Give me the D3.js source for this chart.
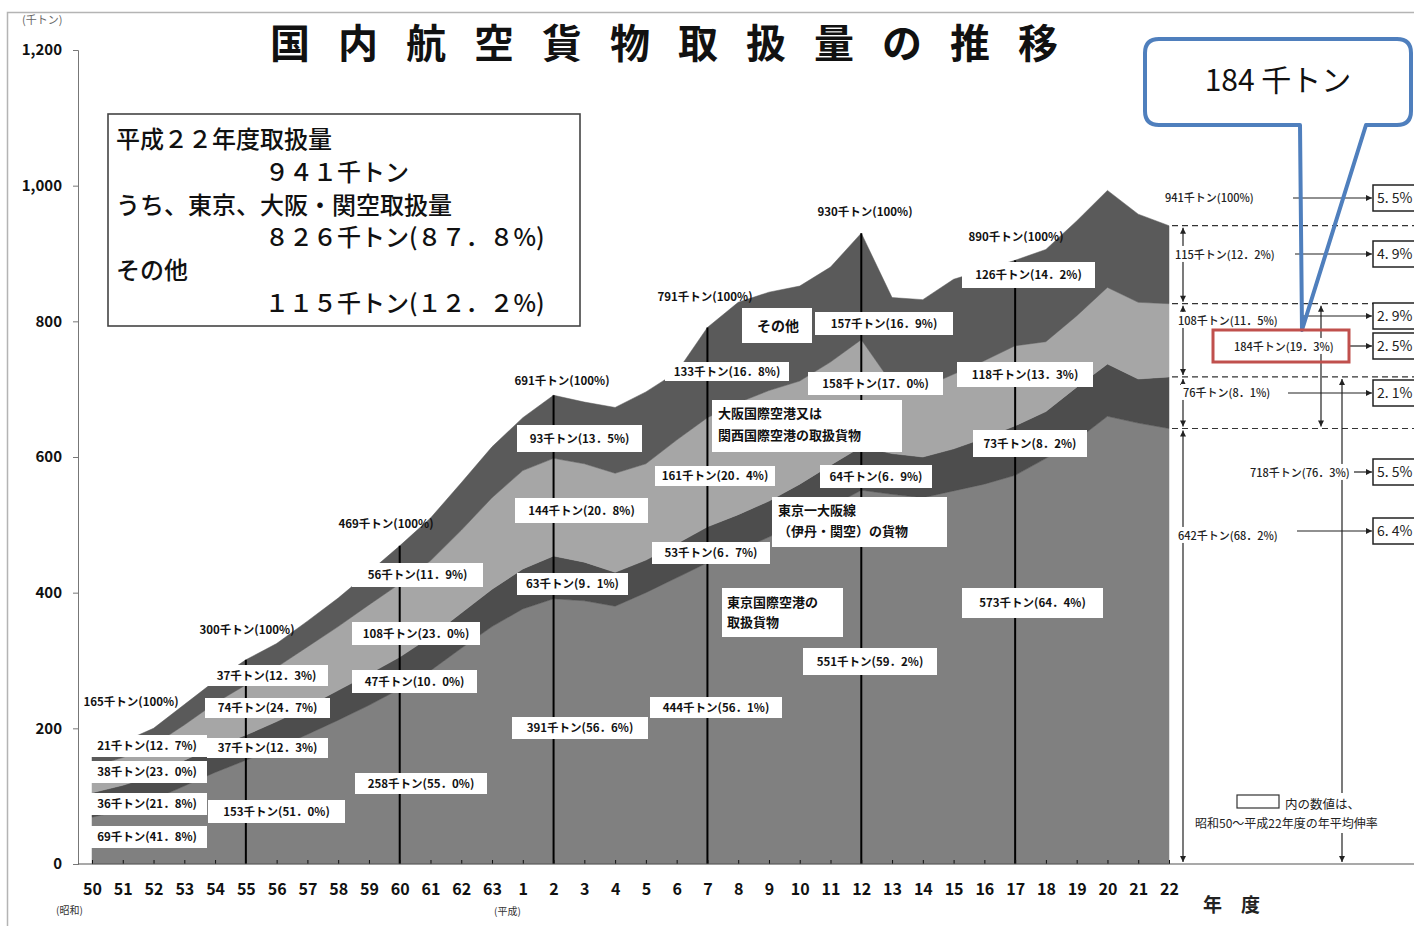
<!DOCTYPE html>
<html><head><meta charset="utf-8">
<script src="https://cdn.jsdelivr.net/npm/d3@7"></script>
<style>
body{margin:0;background:#fff;}
svg{display:block;}
text{font-family:"Noto Sans CJK JP","Noto Sans",sans-serif;}
</style></head><body>
<svg id="c" width="1414" height="926"></svg>
<script>
// ---------------- data ----------------
const years = ["50","51","52","53","54","55","56","57","58","59","60","61","62","63",
  "1","2","3","4","5","6","7","8","9","10","11","12","13","14","15","16","17","18","19","20","21","22"];
// 東京国際空港の取扱貨物 (千トン)
const tokyo = [69,79,95,115,135,153,171,191,212,234,258,285,318,350,376,391,388,380,400,422,444,462,482,503,527,551,545,540,550,560,573,598,625,660,650,642];
// 東京－大阪線（伊丹・関空）の貨物
const tokyoOsaka = [36,37,35,38,38,37,39,41,44,46,47,50,52,55,59,63,57,50,48,50,53,53,53,57,61,64,60,60,62,68,73,69,78,77,65,76];
// 大阪国際空港又は関西国際空港の取扱貨物
const osaka = [38,41,45,52,64,74,80,88,94,102,108,112,122,135,145,144,145,146,142,153,161,165,163,152,152,158,103,102,110,114,118,103,105,113,113,108];
// その他
const other = [21,23,25,30,33,37,35,38,42,48,56,63,70,75,78,93,91,97,106,100,133,148,145,140,140,157,127,130,140,134,126,136,140,143,130,115];
const yTicks = [0,200,400,600,800,1000,1200];
const markedYears = ["55","60","2","7","12","17"];
const seriesKeys = ["tokyo","tokyoOsaka","osaka","other"];
const growthRates = ["5. 5%","4. 9%","2. 9%","2. 5%","2. 1%","5. 5%","6. 4%"];

// ---------------- styles ----------------
const layerColor = {tokyo:"#808080", tokyoOsaka:"#4d4d4d", osaka:"#a6a6a6", other:"#5a5a5a"};

const svg = d3.select("#c");
const x = d3.scaleLinear().domain([0, years.length-1]).range([92,1169]);
const y = d3.scaleLinear().domain([0,1200]).range([864,50]);

const defs = svg.append("defs");
defs.append("marker").attr("id","ah").attr("viewBox","0 0 10 10")
  .attr("refX",10).attr("refY",5).attr("markerWidth",7).attr("markerHeight",6)
  .attr("orient","auto-start-reverse").attr("markerUnits","userSpaceOnUse")
  .append("path").attr("d","M0,0L10,5L0,10Z").attr("fill","#222");

// frame
svg.append("path").attr("d","M7.5,926V12.5H1414").attr("fill","none").attr("stroke","#b4b4b4").attr("stroke-width",1.5);

// unit label
svg.append("text").attr("x",22).attr("y",24).attr("font-size",11).attr("fill","#666").text("(千トン)");

// title
svg.append("text").attr("x",270).attr("y",58).attr("font-size",40).attr("font-weight",700)
  .attr("letter-spacing","28px").attr("fill","#111").text("国内航空貨物取扱量の推移");

// ---------------- stacked areas ----------------
const table = years.map((yr,i)=>({i, tokyo:tokyo[i], tokyoOsaka:tokyoOsaka[i], osaka:osaka[i], other:other[i]}));
const stacked = d3.stack().keys(seriesKeys)(table);
const area = d3.area().x(d=>x(d.data.i)).y0(d=>y(d[0])).y1(d=>y(d[1]));
svg.append("g").selectAll("path").data(stacked).join("path")
  .attr("d",area).attr("fill",d=>layerColor[d.key]).attr("stroke",d=>layerColor[d.key]).attr("stroke-width",0.5);

const totals = table.map(d=>d.tokyo+d.tokyoOsaka+d.osaka+d.other);

// vertical year lines
svg.append("g").selectAll("line").data(markedYears).join("line")
  .attr("x1",d=>x(years.indexOf(d))).attr("x2",d=>x(years.indexOf(d)))
  .attr("y1",y(0)).attr("y2",d=>y(totals[years.indexOf(d)]))
  .attr("stroke","#000").attr("stroke-width",2);

// ---------------- axes ----------------
const yAxis = svg.append("g").attr("transform","translate(78,0)")
  .call(d3.axisLeft(y).tickValues(yTicks).tickSize(5).tickPadding(11).tickFormat(d3.format(",")));
yAxis.select(".domain").attr("stroke","#777");
yAxis.selectAll(".tick line").attr("stroke","#777");
yAxis.selectAll("text").attr("font-family","Liberation Sans, Arial, sans-serif").attr("font-size",15).attr("font-weight",700).attr("fill","#111");

const xAxis = svg.append("g").attr("transform","translate(0,864)")
  .call(d3.axisBottom(x).tickValues(d3.range(years.length)).tickFormat(i=>years[i]).tickSize(-4).tickPadding(20));
xAxis.select(".domain").remove();
xAxis.selectAll(".tick line").attr("stroke","#111");
xAxis.selectAll("text").attr("font-family","Liberation Sans Narrow, Arial Narrow, Liberation Sans, sans-serif").attr("font-size",16).attr("font-weight",700).attr("fill","#111");
svg.append("line").attr("x1",78).attr("x2",1414).attr("y1",864).attr("y2",864).attr("stroke","#555").attr("stroke-width",1.2);
svg.append("text").attr("x",56).attr("y",914).attr("font-size",10).attr("fill","#333").text("(昭和)");
svg.append("text").attr("x",494).attr("y",915).attr("font-size",10).attr("fill","#333").text("(平成)");

// ---------------- info box ----------------
svg.append("rect").attr("x",108).attr("y",114).attr("width",472).attr("height",212)
  .attr("fill","#fff").attr("stroke","#444").attr("stroke-width",1.6);
const info = [
  [116,139,"平成２２年度取扱量"],
  [265,172,"９４１千トン"],
  [116,205,"うち、東京、大阪・関空取扱量"],
  [265,237,"８２６千トン(８７．８%)"],
  [116,270,"その他"],
  [265,303,"１１５千トン(１２．２%)"]
];
svg.append("g").selectAll("text").data(info).join("text")
  .attr("x",d=>d[0]).attr("y",d=>d[1]).attr("dy","0.36em").attr("font-size",24).attr("font-weight",500).attr("fill","#111").text(d=>d[2]);

// ---------------- in-chart labels ----------------
const plainLabels = [
  [131,702,"165千トン(100%)"],[247,630,"300千トン(100%)"],[386,524,"469千トン(100%)"],
  [562,381,"691千トン(100%)"],[705,297,"791千トン(100%)"],[865,212,"930千トン(100%)"],
  [1016,237,"890千トン(100%)"]
];
svg.append("g").selectAll("text").data(plainLabels).join("text")
  .attr("x",d=>d[0]).attr("y",d=>d[1]).attr("dy","0.36em").attr("text-anchor","middle")
  .attr("font-size",11.5).attr("font-weight",700).attr("fill","#111").text(d=>d[2]);

const boxLabels = [
  [87,735,120,22,"21千トン(12．7%)"],[87,761,120,22,"38千トン(23．0%)"],
  [87,793,120,22,"36千トン(21．8%)"],[87,826,120,22,"69千トン(41．8%)"],
  [205,665,123,21,"37千トン(12．3%)"],[205,698,125,20,"74千トン(24．7%)"],
  [207,738,121,20,"37千トン(12．3%)"],[208,800,137,23,"153千トン(51．0%)"],
  [352,563,131,24,"56千トン(11．9%)"],[352,622,128,23,"108千トン(23．0%)"],
  [352,670,125,23,"47千トン(10．0%)"],[355,773,132,21,"258千トン(55．0%)"],
  [517,425,125,27,"93千トン(13．5%)"],[515,498,133,25,"144千トン(20．8%)"],
  [517,573,111,22,"63千トン(9．1%)"],[512,717,136,22,"391千トン(56．6%)"],
  [665,362,124,19,"133千トン(16．8%)"],[655,466,120,20,"161千トン(20．4%)"],
  [652,542,118,22,"53千トン(6．7%)"],[650,697,132,21,"444千トン(56．1%)"],
  [815,312,138,23,"157千トン(16．9%)"],[808,372,135,23,"158千トン(17．0%)"],
  [820,465,112,23,"64千トン(6．9%)"],[803,648,134,27,"551千トン(59．2%)"],
  [962,262,133,26,"126千トン(14．2%)"],[957,362,136,25,"118千トン(13．3%)"],
  [973,430,114,27,"73千トン(8．2%)"],[962,588,141,30,"573千トン(64．4%)"]
];
const bl = svg.append("g").selectAll("g").data(boxLabels).join("g");
bl.append("rect").attr("x",d=>d[0]).attr("y",d=>d[1]).attr("width",d=>d[2]).attr("height",d=>d[3]).attr("fill","#fff");
bl.append("text").attr("x",d=>d[0]+d[2]/2).attr("y",d=>d[1]+d[3]/2).attr("dy","0.36em")
  .attr("text-anchor","middle").attr("font-size",11.5).attr("font-weight",700).attr("fill","#111").text(d=>d[4]);

const noteBoxes = [
  [742,308,70,35,[["その他",757,326]],14],
  [712,400,190,52,[["大阪国際空港又は",718,413],["関西国際空港の取扱貨物",718,435]],13],
  [772,497,175,50,[["東京一大阪線",778,510],["（伊丹・関空）の貨物",778,531]],13],
  [722,588,121,49,[["東京国際空港の",727,602],["取扱貨物",727,622]],13]
];
const nb = svg.append("g").selectAll("g").data(noteBoxes).join("g");
nb.append("rect").attr("x",d=>d[0]).attr("y",d=>d[1]).attr("width",d=>d[2]).attr("height",d=>d[3]).attr("fill","#fff");
nb.each(function(d){
  d3.select(this).selectAll("text").data(d[4]).join("text")
    .attr("x",t=>t[1]).attr("y",t=>t[2]).attr("dy","0.36em")
    .attr("font-size",d[5]).attr("font-weight",700).attr("fill","#111").text(t=>t[0]);
});

// ---------------- right-side annotations ----------------
const last = years.length-1;
const lv = [totals[last], tokyo[last]+tokyoOsaka[last]+osaka[last], tokyo[last]+tokyoOsaka[last], tokyo[last], 0];
svg.append("g").selectAll("line").data(lv.slice(0,4)).join("line")
  .attr("x1",1172).attr("x2",1414).attr("y1",d=>y(d)).attr("y2",d=>y(d))
  .attr("stroke","#333").attr("stroke-width",1.2).attr("stroke-dasharray","6,4");

function vArrow(xp, a, b){
  svg.append("line").attr("x1",xp).attr("x2",xp).attr("y1",y(a)+2).attr("y2",y(b)-2)
    .attr("stroke","#222").attr("stroke-width",1.2)
    .attr("marker-start","url(#ah)").attr("marker-end","url(#ah)");
}
for(let k=0;k<4;k++) vArrow(1183, lv[k], lv[k+1]);
vArrow(1321, lv[1], lv[3]);
vArrow(1342, lv[2], lv[4]);

const rightLabels = [
  ["941千トン(100%)",1165,198,1293,198],
  ["115千トン(12．2%)",1175,255,1295,254],
  ["108千トン(11．5%)",1178,321,1300,316],
  ["184千トン(19．3%)",1234,347,1350,346],
  ["76千トン(8．1%)",1183,393,1288,393],
  ["718千トン(76．3%)",1250,473,1354,472],
  ["642千トン(68．2%)",1178,536,1297,531]
];
rightLabels.forEach((r,i)=>{
  const g = svg.append("g");
  const t = g.append("text").attr("x",r[1]).attr("y",r[2]).attr("dy","0.36em")
    .attr("font-size",11).attr("font-weight",500).attr("fill","#222").text(r[0]);
  const bb = t.node().getBBox();
  g.insert("rect","text").attr("x",bb.x-2).attr("y",bb.y).attr("width",bb.width+4).attr("height",bb.height).attr("fill","#fff");
  svg.append("line").attr("x1",r[3]).attr("x2",1372).attr("y1",r[4]).attr("y2",r[4])
    .attr("stroke","#222").attr("stroke-width",1.2).attr("marker-end","url(#ah)");
  svg.append("rect").attr("x",1373).attr("y",r[4]-13).attr("width",60).attr("height",26)
    .attr("fill","#fff").attr("stroke","#222").attr("stroke-width",1.5);
  svg.append("text").attr("x",1377).attr("y",r[4]).attr("dy","0.36em").attr("font-size",14)
    .attr("fill","#222").text(growthRates[i]);
});

// note
svg.append("rect").attr("x",1192).attr("y",793).attr("width",222).attr("height",40).attr("fill","#fff");
svg.append("rect").attr("x",1237).attr("y",795).attr("width",42).attr("height",13).attr("fill","#fff").attr("stroke","#333").attr("stroke-width",1.2);
svg.append("text").attr("x",1285).attr("y",804).attr("dy","0.36em").attr("font-size",12.5).attr("fill","#222").text("内の数値は、");
svg.append("text").attr("x",1195).attr("y",824).attr("dy","0.36em").attr("font-size",12).attr("fill","#222").text("昭和50～平成22年度の年平均伸率");
svg.append("text").attr("x",1203).attr("y",905).attr("dy","0.36em").attr("font-size",19).attr("font-weight",700).attr("fill","#222").text("年　度");

// ---------------- callout ----------------
svg.append("rect").attr("x",1145).attr("y",39).attr("width",266).attr("height",86).attr("rx",14).attr("fill","#fff");
svg.append("path")
  .attr("d","M1159,39H1397Q1411,39 1411,53V111Q1411,125 1397,125H1366L1302,330L1300,125H1159Q1145,125 1145,111V53Q1145,39 1159,39Z")
  .attr("fill","none").attr("stroke","#4f7fbd").attr("stroke-width",4).attr("stroke-linejoin","round");
svg.append("text").attr("x",1278).attr("y",80).attr("dy","0.36em").attr("text-anchor","middle")
  .attr("font-size",30).attr("fill","#111").text("184 千トン");
svg.append("rect").attr("x",1213).attr("y",330).attr("width",136).attr("height",32)
  .attr("fill","none").attr("stroke","#c0504d").attr("stroke-width",3);
</script>
</body></html>
